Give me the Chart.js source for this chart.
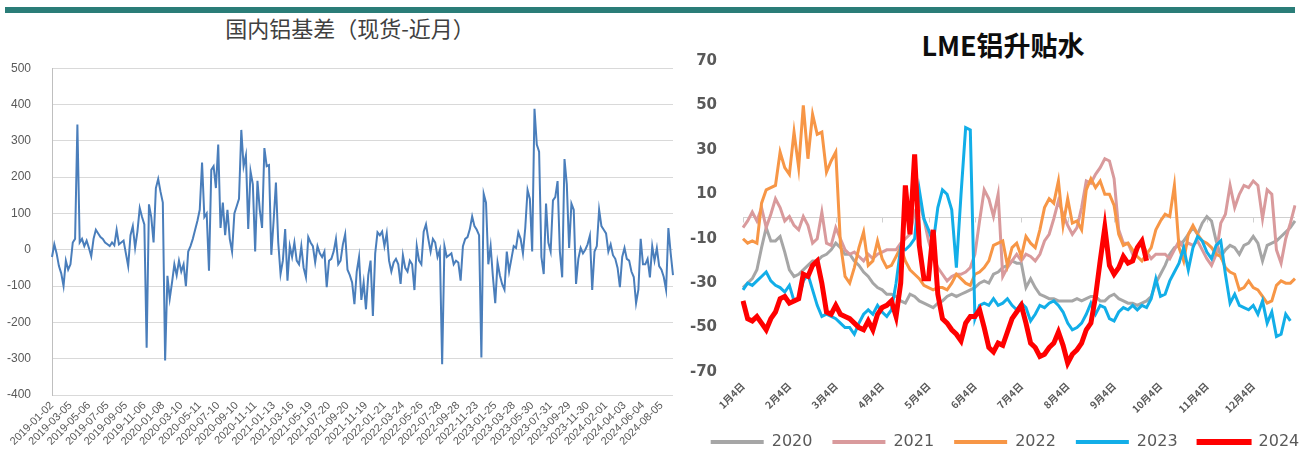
<!DOCTYPE html>
<html><head><meta charset="utf-8">
<script src="https://cdn.jsdelivr.net/npm/chart.js@4.4.1/dist/chart.umd.min.js"></script>
<style>
html,body{margin:0;padding:0;background:#fff;}
#wrap{position:relative;width:1311px;height:457px;overflow:hidden;background:#fff;}
#bar{position:absolute;left:5px;top:7px;width:1290px;height:6px;background:#2a7d78;}
.title{position:absolute;white-space:nowrap;font-family:"Noto Sans CJK SC";line-height:1;}
#t1{left:350px;top:16px;transform:translateX(-50%);font-size:22px;color:#404040;}
#t2{left:1003px;top:31px;transform:translateX(-50%);font-size:27px;font-weight:bold;color:#0d0d0d;}
canvas{position:absolute;}
#c1{left:0;top:40px;}
#c2{left:680px;top:0;}
</style></head>
<body>
<div id="wrap">
<div id="bar"></div>
<div class="title" id="t1">国内铝基差（现货-近月）</div>
<div class="title" id="t2">LME铝升贴水</div>
<canvas id="c1" width="680" height="417"></canvas>
<canvas id="c2" width="650" height="457"></canvas>
</div>
<script>
// ---------- Left chart: 国内铝基差 ----------
const dateLabels = ['2019-01-02','2019-03-05','2019-05-06','2019-07-05','2019-09-05','2019-11-06',
'2020-01-08','2020-03-10','2020-05-11','2020-07-10','2020-09-10','2020-11-11',
'2021-01-13','2021-03-16','2021-05-19','2021-07-20','2021-09-20','2021-11-19',
'2022-01-21','2022-03-24','2022-05-26','2022-07-28','2022-09-28','2022-11-23',
'2023-01-25','2023-03-28','2023-05-30','2023-07-31','2023-09-29','2023-11-30',
'2024-02-01','2024-04-03','2024-06-04','2024-08-05'];
const basis = [
-20, 15, -10, -45, -65, -100, -30, -55, -40, 20,
30, 345, 20, 30, 10, 25, 5, -18, 30, 55,
45, 35, 30, 20, 15, 10, 20, 12, 55, 15,
20, 25, -10, -45, 40, 65, 5, 50, 115, 90,
70, -270, 125, 90, 20, 170, 195, 160, 130, -305,
-72, -135, -90, -40, -70, -30, -60, -40, -100, -5,
10, 30, 55, 80, 110, 240, 90, 100, -58, 220,
230, 170, 290, 60, 130, 40, 110, 30, -5, 100,
120, 140, 330, 230, 260, 57, 216, 180, -5, 190,
110, 60, 280, 230, 233, -14, 80, 185, 20, -67,
-30, 57, -85, 10, -20, 20, -30, -40, 10, -50,
-76, 35, 20, 10, -35, 10, -10, -20, -5, -103,
-30, -25, -5, 30, -40, -30, 15, 43, -55, -70,
-90, -150, -60, -20, -138, -90, -164, -70, -30, -182,
-10, 48, 40, 50, 10, 45, -30, -60, -35, -25,
-40, -94, -15, -50, -60, -30, -40, -111, 10, -30,
-40, 50, 70, 30, -5, 30, 20, -20, 0, -315,
10, -20, -15, -10, -40, -30, -35, -85, 10, 30,
35, 57, 92, 65, 55, 40, -297, 154, 130, -40,
10, -75, -147, -35, -70, -95, -110, -5, -60, -25,
10, 5, 48, 30, -10, 60, 165, 140, -5, 388,
290, 270, -20, -67, 127, 20, -5, 136, 145, 189,
-5, -76, 250, 180, 5, 127, 110, -94, -25, 5,
-10, 0, 15, 39, -111, -5, 10, 110, 65, 55,
45, -5, 15, -15, -25, -50, -103, -20, 5, -25,
-30, -60, -75, -147, -110, 30, -40, -40, -25, -76,
10, -30, 5, -45, -55, -75, -110, 60, -10, -70
];

// ---------- Right chart: LME铝升贴水 ----------
const monthLabels = ['1月4日','2月4日','3月4日','4月4日','5月4日','6月4日','7月4日','8月4日','9月4日','10月4日','11月4日','12月4日'];
const y2020 = [
-32, -30, -28, -24, -14, -5, -11, -11, -9, -16,
-24, -27, -26, -24, -22, -20, -20, -18, -17, -15,
-12, -14, -17, -17, -20, -22, -25, -27, -30, -32,
-33, -35, -35, -36, -38, -39, -35, -36, -38, -39,
-40, -41, -39, -38, -36, -35, -36, -35, -34, -33,
-32, -30, -29, -30, -26, -25, -23, -22, -20, -21,
-21, -32, -28, -32, -35, -36, -37, -37, -38, -38,
-38, -38, -37, -38, -37, -36, -36, -38, -38, -36,
-35, -37, -38, -39, -39, -40, -39, -38, -36, -30,
-26, -22, -17, -14, -13, -11, -8, -5, -8, -3,
0, -2, -11, -18, -15, -13, -14, -17, -13, -12,
-9, -12, -20, -13, -12, -11, -9, -7, -5, -2];
const y2021 = [
-5, -2, 2, -2, 4, -5, 1, 8, 4, -2,
0, -4, -6, 0, -4, -12, -10, 2, -12, -13,
-5, -10, -15, -17, -16, -18, -20, -17, -19, -17,
-16, -15, -15, -15, -12, -10, -8, 2, 6, -1,
-11, -18, -23, -26, -29, -27, -26, -26, -25, -23,
-17, -2, 12, 8, 0, 10, -27, -23, -20, -17,
-20, -17, -18, -20, -17, -11, -8, -1, 7, 1,
-4, -8, -5, 4, 16, 15, 19, 22, 26, 25,
17, -6, -12, -12, -17, -14, -12, -16, -19, -17,
-17, -17, -19, -15, -11, -14, -12, -13, -11, -15,
-19, -22, -17, -3, 1, 14, 4, 10, 14, 13,
16, 14, -1, 12, 10, -15, -21, -10, -3, 5];
const y2022 = [
-10, -12, -11, -12, 6, 12, 13, 14, 29, 22,
19, 38, 22, 50, 26, 46, 37, 38, 20, 25,
29, -12, -27, -30, -23, -14, -7, -22, -20, -11,
-19, -23, -22, -18, -14, -20, -24, -26, -28, -31,
-32, -33, -32, -32, -33, -30, -26, -28, -30, -31,
-26, -25, -23, -20, -13, -12, -11, -22, -14, -12,
-18, -9, -12, -14, -6, 4, 8, 6, 16, -4,
8, -3, -2, -6, 12, 17, 13, 16, 10, 10,
5, -8, -13, -12, -15, -18, -20, -17, -14, -6,
-2, 1, 0, 14, -14, -20, -8, -4, -8, -11,
-12, -14, -17, -18, -23, -25, -26, -33, -32, -29,
-32, -33, -36, -39, -38, -31, -29, -30, -30, -28];
const y2023 = [
-33, -30, -31, -29, -27, -25, -29, -31, -32, -34,
-31, -38, -37, -29, -26, -33, -40, -45, -44, -45,
-46, -48, -50, -50, -53, -48, -44, -42, -44, -40,
-43, -45, -42, -30, -14, -15, -13, -10, 12, -1,
-6, -12, 4, 12, 10, 3, -23, 10, 40, 39,
-46, -40, -39, -40, -37, -40, -39, -37, -40, -42,
-39, -41, -47, -44, -40, -41, -39, -38, -40, -43,
-48, -51, -50, -48, -44, -39, -44, -40, -41, -46,
-47, -43, -41, -42, -40, -42, -40, -41, -37, -28,
-36, -35, -29, -25, -21, -14, -24, -14, -9, -11,
-16, -19, -13, -11, -26, -39, -35, -40, -41, -42,
-40, -44, -38, -48, -43, -54, -53, -44, -47];
const y2024 = [
-38, -46, -47, -45, -48, -51, -46, -43, -37, -36,
-39, -38, -37, -26, -27, -22, -20, -30, -43, -44,
-40, -44, -45, -46, -48, -50, -51, -47, -51, -44,
-41, -40, -38, -45, -30, 14, -8, 28, -13, -28,
-28, -6, -35, -46, -48, -51, -53, -56, -48, -45,
-45, -42, -50, -59, -61, -57, -58, -52, -46, -43,
-40, -48, -57, -59, -63, -62, -59, -57, -52, -58,
-66, -62, -60, -57, -51, -48, -36, -20, -5, -22,
-26, -23, -18, -21, -20, -14, -11, -20];
const seriesNames = ['2020','2021','2022','2023','2024'];

// ---------- Build left chart ----------
const perLabel1 = 8;
const cats1 = basis.map((_, i) => (i % perLabel1 === 0 && dateLabels[i / perLabel1]) ? dateLabels[i / perLabel1] : '');
new Chart(document.getElementById('c1'), {
  type: 'line',
  data: { labels: cats1, datasets: [{ data: basis, borderColor: '#4a7ebb', borderWidth: 2, pointRadius: 0, tension: 0, fill: false }] },
  options: {
    responsive: false, animation: false, devicePixelRatio: 1,
    layout: { padding: { left: 0, right: 7, top: 16, bottom: 0 } },
    plugins: { legend: { display: false }, tooltip: { enabled: false } },
    scales: {
      x: {
        type: 'category',
        grid: { display: false, drawTicks: false },
        border: { display: false },
        ticks: { autoSkip: false, maxRotation: 45, minRotation: 45, padding: 4, color: '#595959',
                 font: { family: 'Liberation Sans', size: 11 } },
        afterFit(s) { s.height = 62; s.paddingLeft = 0; s.paddingRight = 0; }
      },
      y: {
        min: -400, max: 500,
        ticks: { stepSize: 100, color: '#595959', padding: 21, font: { family: 'Liberation Sans', size: 12 } },
        grid: { color: '#d9d9d9', drawTicks: false, lineWidth: 1 },
        border: { display: true, color: '#bfbfbf' },
        afterFit(s) { s.width = 52; }
      }
    }
  }
});

// ---------- Build right chart ----------
const perLabel2 = 10;
const cats2 = y2020.map((_, i) => (i % perLabel2 === 0 && monthLabels[i / perLabel2]) ? monthLabels[i / perLabel2] : '');
const seriesData = [y2020, y2021, y2022, y2023, y2024];
const seriesColors = ['#a6a6a6', '#d99a9c', '#f79646', '#12aee8', '#ff0000'];
const seriesWidths = [3, 3, 3, 3, 5];

const zeroLine = {
  id: 'zeroLine',
  beforeDatasetsDraw(chart) {
    const { ctx, chartArea: a, scales: { x, y } } = chart;
    const py = Math.round(y.getPixelForValue(0)) + 0.5;
    ctx.save();
    ctx.strokeStyle = '#d0d0d0';
    ctx.lineWidth = 1;
    ctx.beginPath();
    ctx.moveTo(a.left, py); ctx.lineTo(a.right, py);
    for (let m = 0; m < monthLabels.length; m++) {
      const px = Math.round(x.getPixelForValue(m * perLabel2)) + 0.5;
      ctx.moveTo(px, py); ctx.lineTo(px, py + 5);
    }
    ctx.stroke();
    ctx.restore();
  }
};

new Chart(document.getElementById('c2'), {
  type: 'line',
  data: {
    labels: cats2,
    datasets: seriesData.map((d, k) => ({
      label: seriesNames[k], data: d, borderColor: seriesColors[k], backgroundColor: seriesColors[k],
      borderWidth: seriesWidths[k], pointRadius: 0, tension: 0, fill: false, order: 4 - k
    }))
  },
  plugins: [zeroLine],
  options: {
    responsive: false, animation: false, devicePixelRatio: 1,
    layout: { padding: { left: 0, right: 0, top: 61, bottom: -3 } },
    plugins: {
      tooltip: { enabled: false },
      legend: {
        position: 'bottom',
        labels: {
          boxWidth: 53, boxHeight: 4, padding: 20, color: '#595959',
          font: { family: 'DejaVu Sans', size: 16 },
          generateLabels(chart) {
            return chart.data.datasets.map((d, i) => ({
              text: d.label, fillStyle: d.borderColor, strokeStyle: d.borderColor,
              lineWidth: i === 4 ? 2 : 0, hidden: false, datasetIndex: i, fontColor: '#595959'
            }));
          }
        }
      }
    },
    scales: {
      x: {
        type: 'category',
        grid: { display: false, drawTicks: false },
        border: { display: false },
        ticks: { autoSkip: false, maxRotation: 45, minRotation: 45, padding: 8, color: '#595959',
                 font: { family: 'Noto Sans CJK SC', size: 10, weight: 'bold' } },
        afterFit(s) { s.height = 42; s.paddingLeft = 0; s.paddingRight = 0; }
      },
      y: {
        min: -70, max: 70,
        ticks: { stepSize: 20, color: '#595959', padding: 26, font: { family: 'DejaVu Sans', size: 15, weight: 'bold' } },
        grid: { display: false, drawTicks: false },
        border: { display: false },
        afterFit(s) { s.width = 63; }
      },
      yRight: {
        position: 'right', min: -70, max: 70,
        grid: { display: false, drawTicks: false },
        border: { display: false },
        ticks: { display: false },
        afterFit(s) { s.width = 35; }
      }
    }
  }
});
</script>
</body></html>
